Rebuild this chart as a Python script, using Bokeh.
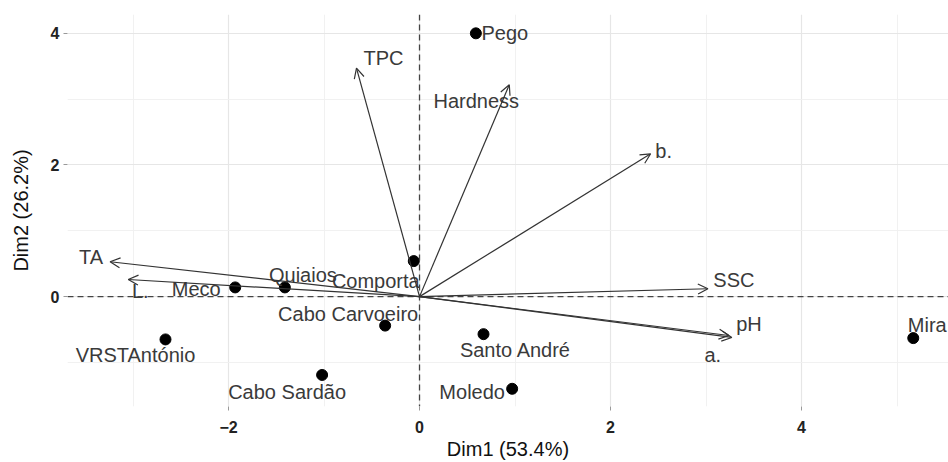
from bokeh.plotting import figure
from bokeh.models import ColumnDataSource, Arrow, OpenHead, Span, FixedTicker, Range1d
from bokeh.core.properties import value
from bokeh.embed import file_html
from bokeh.resources import INLINE

# Individuals (sites)
sites = ["Pego", "Comporta", "Quiaios", "Meco", "Cabo Carvoeiro", "VRSTAntónio",
         "Cabo Sardão", "Santo André", "Moledo", "Mira"]
site_dim1 = [0.59, -0.06, -1.41, -1.93, -0.36, -2.66, -1.02, 0.67, 0.97, 5.17]
site_dim2 = [4.00, 0.54, 0.14, 0.14, -0.44, -0.65, -1.19, -0.57, -1.40, -0.63]

# Variables (arrows)
variables = ["TPC", "Hardness", "b.", "SSC", "pH", "a.", "TA", "L."]
var_dim1 = [-0.66, 0.94, 2.42, 3.02, 3.24, 3.27, -3.24, -3.05]
var_dim2 = [3.47, 3.22, 2.17, 0.12, -0.59, -0.62, 0.53, 0.26]

x_ticks = [-2, 0, 2, 4]
y_ticks = [0, 2, 4]

# label offsets (screen px: right, down)
site_dx = [29, -38, 18, -39, -37, -30, -35, 32, -40, 14]
site_dy = [0, 20, -12, 2, -12, 16, 17, 16, 3, -13]
var_dx = [27, -33, 13, 26, 20, -19, -19, 12]
var_dy = [-10, 16, -3, -9, -11, 18, -5, 11]

FONT = "Liberation Sans"
TXT = "#3a3a3a"

p = figure(width=948, height=462, output_backend="svg", toolbar_location=None,
           x_range=Range1d(-3.686, 5.539), y_range=Range1d(-1.669, 4.286),
           min_border_left=67, min_border_right=0, min_border_top=14, min_border_bottom=52)
p.outline_line_color = None
p.background_fill_color = "white"

for ax, ticks, minor in ((p.xaxis[0], x_ticks, [-3, -1, 1, 3, 5]), (p.yaxis[0], y_ticks, [-1, 1, 3])):
    ax.ticker = FixedTicker(ticks=ticks, minor_ticks=minor)
    ax.axis_line_color = None
    ax.major_tick_in = 0
    ax.major_tick_out = 4
    ax.major_tick_line_color = "#999999"
    ax.minor_tick_line_color = None
    ax.major_label_text_font = FONT
    ax.major_label_text_font_size = "16px"
    ax.major_label_text_font_style = "bold"
    ax.major_label_text_color = "#222222"
    ax.axis_label_text_font = FONT
    ax.axis_label_text_font_size = "20px"
    ax.axis_label_text_font_style = "normal"
    ax.axis_label_text_color = "#111111"

p.xaxis.axis_label = "Dim1 (53.4%)"
p.yaxis.axis_label = "Dim2 (26.2%)"
p.xaxis.major_label_standoff = 10
p.xaxis.axis_label_standoff = 2
p.yaxis.major_label_standoff = 4
p.yaxis.axis_label_standoff = 16

for g in (p.xgrid[0], p.ygrid[0]):
    g.grid_line_color = "#e6e6e6"
    g.grid_line_width = 1.2
    g.minor_grid_line_color = "#efefef"
    g.minor_grid_line_width = 0.9
p.xgrid[0].ticker = p.xaxis[0].ticker
p.ygrid[0].ticker = p.yaxis[0].ticker

p.add_layout(Span(location=0, dimension="width", line_color="#444444", line_dash="6 4", line_width=1.3))
p.add_layout(Span(location=0, dimension="height", line_color="#444444", line_dash="6 4", line_width=1.3))

vsrc = ColumnDataSource(dict(x0=[0] * len(variables), y0=[0] * len(variables),
                             x=var_dim1, y=var_dim2, name=variables, dx=var_dx, dy=var_dy))
p.add_layout(Arrow(end=OpenHead(size=10, line_color="#333333", line_width=1.2),
                   x_start="x0", y_start="y0", x_end="x", y_end="y", source=vsrc,
                   line_color="#333333", line_width=1.2))

ssrc = ColumnDataSource(dict(x=site_dim1, y=site_dim2, name=sites, dx=site_dx, dy=site_dy))
p.scatter("x", "y", source=ssrc, size=11, color="black")

for src in (ssrc, vsrc):
    p.text("x", "y", text="name", source=src, x_offset="dx", y_offset="dy",
           text_font=value(FONT), text_font_size=value("20px"), text_color=TXT,
           text_align="center", text_baseline="middle")

open("out.html", "w").write(file_html(p, INLINE))
